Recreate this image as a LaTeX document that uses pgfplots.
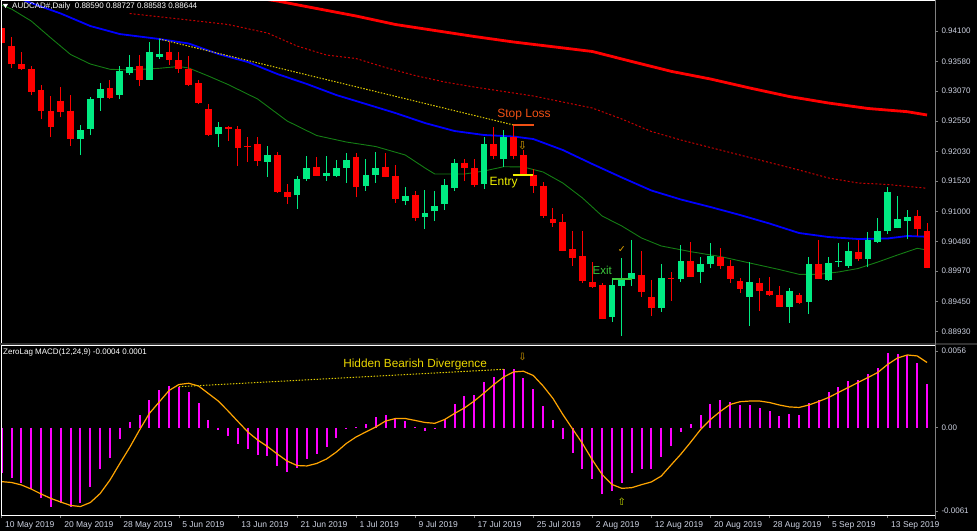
\documentclass[border=0pt]{standalone}
\usepackage{pgfplots}
\pgfplotsset{compat=1.18}
\usepackage{pgfplotstable}
\usepackage{fontspec}
\setmainfont{Liberation Sans}
\newfontfamily\symfont{DejaVu Sans}
\definecolor{bull}{RGB}{0,235,130}
\definecolor{bear}{RGB}{255,0,0}
\definecolor{lbl}{RGB}{205,210,225}
\definecolor{framec}{RGB}{128,128,128}
\definecolor{sepc}{RGB}{50,50,50}
\definecolor{ma20c}{RGB}{20,125,20}
\definecolor{ma100c}{RGB}{200,0,0}
\definecolor{trendc}{RGB}{225,205,0}
\definecolor{sigc}{RGB}{255,165,0}
\definecolor{histc}{RGB}{255,0,255}
\definecolor{slc}{RGB}{240,80,20}
\definecolor{entryc}{RGB}{240,240,0}
\definecolor{exitc}{RGB}{60,200,60}
\definecolor{divc}{RGB}{235,215,0}
\definecolor{upc}{RGB}{200,220,0}
\definecolor{dnc}{RGB}{220,160,0}

\pgfplotstableread{
i o h l c
8 0.92248 0.92484 0.91968 0.92398
9 0.92420 0.92970 0.92312 0.92931
10 0.92943 0.93201 0.92730 0.93103
12 0.93005 0.93498 0.92931 0.93418
13 0.93383 0.93687 0.93344 0.93486
15 0.93258 0.93916 0.93258 0.93744
16 0.93653 0.93957 0.93619 0.93710
22 0.92329 0.92541 0.92111 0.92455
27 0.91853 0.92123 0.91595 0.91963
30 0.91275 0.91607 0.91040 0.91556
31 0.91550 0.91956 0.91526 0.91739
33 0.91607 0.91956 0.91526 0.91664
34 0.91607 0.91882 0.91590 0.91739
35 0.91750 0.92008 0.91492 0.91882
37 0.91435 0.91894 0.91354 0.91624
38 0.91624 0.92025 0.91492 0.91739
41 0.91182 0.91413 0.91108 0.91263
43 0.90907 0.91366 0.90696 0.90976
44 0.91000 0.91354 0.90833 0.91091
45 0.91131 0.91550 0.91023 0.91452
46 0.91406 0.91894 0.91354 0.91825
49 0.91470 0.92272 0.91384 0.92157
51 0.91899 0.92398 0.91767 0.92272
62 0.89188 0.89831 0.89102 0.89733
63 0.89721 0.90202 0.88861 0.89836
64 0.89831 0.90507 0.89721 0.89934
67 0.89332 0.90089 0.89274 0.89848
69 0.89831 0.90421 0.89790 0.90146
71 0.89962 0.90220 0.89773 0.90089
72 0.90089 0.90460 0.90020 0.90232
76 0.89532 0.90123 0.89033 0.89779
80 0.89360 0.89687 0.89085 0.89630
82 0.89446 0.90220 0.89234 0.90089
84 0.89819 0.90220 0.89807 0.90106
85 0.90123 0.90450 0.90048 0.90151
86 0.90060 0.90477 0.90030 0.90318
88 0.90175 0.90649 0.90037 0.90507
89 0.90477 0.90890 0.90460 0.90667
90 0.90667 0.91423 0.90610 0.91337
91 0.90708 0.91263 0.90708 0.90863
92 0.90839 0.91023 0.90519 0.90897
}\bulltab

\pgfplotstableread{
i o h l c
0 0.94146 0.94318 0.93727 0.93889
1 0.93842 0.94002 0.93459 0.93533
2 0.93533 0.93744 0.93430 0.93442
3 0.93442 0.93503 0.92999 0.93056
4 0.93086 0.93172 0.92582 0.92725
5 0.92725 0.92983 0.92283 0.92455
6 0.92897 0.93132 0.92616 0.92707
7 0.92730 0.92999 0.92128 0.92238
11 0.93115 0.93258 0.92931 0.92943
14 0.93503 0.93687 0.93154 0.93258
17 0.93744 0.93916 0.93515 0.93601
18 0.93601 0.93744 0.93383 0.93447
19 0.93447 0.93670 0.93154 0.93166
20 0.93201 0.93258 0.92845 0.92857
21 0.92759 0.92845 0.92300 0.92312
23 0.92455 0.92467 0.92214 0.92410
24 0.92415 0.92467 0.91784 0.92094
25 0.92128 0.92283 0.91853 0.92101
26 0.92157 0.92283 0.91784 0.91865
28 0.91963 0.92020 0.91315 0.91327
29 0.91332 0.91470 0.91131 0.91246
32 0.91767 0.91939 0.91607 0.91612
36 0.91939 0.92008 0.91241 0.91413
39 0.91767 0.91997 0.91590 0.91595
40 0.91607 0.91796 0.91148 0.91212
42 0.91280 0.91354 0.90833 0.90890
47 0.91825 0.91894 0.91526 0.91739
48 0.91739 0.91894 0.91413 0.91452
50 0.92157 0.92444 0.91894 0.91956
52 0.92283 0.92484 0.91894 0.91956
53 0.91968 0.92054 0.91616 0.91624
54 0.91624 0.91722 0.91320 0.91440
55 0.91440 0.91509 0.90890 0.90925
56 0.90868 0.91052 0.90735 0.90804
57 0.90821 0.90949 0.90317 0.90323
58 0.90352 0.90667 0.90060 0.90202
59 0.90232 0.90667 0.89773 0.89802
60 0.89785 0.90123 0.89687 0.89699
61 0.89733 0.89762 0.89148 0.89148
65 0.89905 0.90323 0.89532 0.89618
66 0.89522 0.89819 0.89205 0.89332
68 0.89859 0.89962 0.89463 0.89831
70 0.90146 0.90477 0.89876 0.89876
73 0.90220 0.90374 0.90008 0.90065
74 0.90060 0.90163 0.89773 0.89836
75 0.89802 0.89848 0.89601 0.89664
77 0.89773 0.89848 0.89291 0.89630
78 0.89630 0.89865 0.89544 0.89561
79 0.89561 0.89716 0.89360 0.89360
81 0.89561 0.89601 0.89406 0.89429
83 0.90089 0.90507 0.89836 0.89836
87 0.90295 0.90507 0.90151 0.90180
93 0.90919 0.91023 0.90576 0.90691
94 0.90667 0.90794 0.90020 0.90020
}\beartab

\pgfplotstableread{
i p
26 0.94667
28 0.94616
32 0.94487
36 0.94358
40 0.94212
44 0.94109
48 0.94006
52 0.93911
56 0.93830
60 0.93748
64 0.93576
68 0.93407
72 0.93275
76 0.93120
80 0.92974
84 0.92862
88 0.92768
92 0.92713
94 0.92656
}\matwohundred

\pgfplotstableread{
i p
13 0.94401
19 0.94289
23 0.94212
27 0.94066
30 0.93842
33 0.93687
36 0.93627
39 0.93472
42 0.93335
45 0.93223
48 0.93137
51 0.93060
54 0.92983
57 0.92879
60 0.92776
63 0.92587
66 0.92372
69 0.92226
72 0.92097
75 0.91968
78 0.91839
81 0.91710
84 0.91573
87 0.91487
90 0.91461
94 0.91396
}\mahundred

\pgfplotstableread{
i p
0 0.94771
3 0.94581
6 0.94401
9 0.94186
12 0.94048
16 0.93963
19 0.93885
22 0.93705
25 0.93567
28 0.93361
31 0.93189
34 0.92999
37 0.92845
40 0.92690
43 0.92518
46 0.92381
49 0.92312
52 0.92286
54 0.92243
57 0.92054
60 0.91813
63 0.91581
66 0.91358
69 0.91203
72 0.91074
75 0.90937
78 0.90790
81 0.90627
84 0.90558
87 0.90524
90 0.90533
92 0.90576
94 0.90563
}\mafifty

\pgfplotstableread{
i p
0 0.94547
1 0.94478
3 0.94272
5 0.93980
7 0.93696
9 0.93533
11 0.93442
13 0.93430
16 0.93459
18 0.93490
19 0.93464
21 0.93326
23 0.93180
26 0.92931
29 0.92553
32 0.92303
35 0.92192
38 0.92114
41 0.91968
43 0.91745
44 0.91641
47 0.91641
49 0.91693
51 0.91767
53 0.91762
55 0.91676
57 0.91487
59 0.91229
61 0.90919
63 0.90747
65 0.90541
67 0.90404
70 0.90306
73 0.90223
76 0.90111
79 0.89999
81 0.89917
83 0.89917
85 0.89957
87 0.90017
89 0.90128
91 0.90249
93 0.90364
94 0.90335
}\matwenty

\pgfplotstableread{
i h s
0 -0.00334 -0.00395
1 -0.00371 -0.00401
2 -0.00402 -0.00419
3 -0.00451 -0.00449
4 -0.00517 -0.00485
5 -0.00578 -0.00518
6 -0.00553 -0.00544
7 -0.00578 -0.00569
8 -0.00553 -0.00577
9 -0.00432 -0.00548
10 -0.00305 -0.00482
11 -0.00220 -0.00383
12 -0.00083 -0.00262
13 0.00042 -0.00145
14 0.00093 -0.00017
15 0.00203 0.00104
16 0.00276 0.00188
17 0.00305 0.00272
18 0.00300 0.00316
19 0.00264 0.00325
20 0.00183 0.00305
21 0.00056 0.00250
22 -0.00017 0.00195
23 -0.00061 0.00122
24 -0.00122 0.00045
25 -0.00158 -0.00031
26 -0.00200 -0.00090
27 -0.00207 -0.00138
28 -0.00280 -0.00193
29 -0.00322 -0.00244
30 -0.00297 -0.00277
31 -0.00231 -0.00280
32 -0.00193 -0.00262
33 -0.00139 -0.00229
34 -0.00078 -0.00178
35 -0.00003 -0.00116
36 0.00003 -0.00068
37 0.00027 -0.00031
38 0.00076 0.00005
39 0.00093 0.00049
40 0.00061 0.00067
41 0.00051 0.00067
42 0.00002 0.00053
43 -0.00022 0.00038
44 -0.00002 0.00032
45 0.00064 0.00060
46 0.00171 0.00104
47 0.00232 0.00144
48 0.00239 0.00195
49 0.00337 0.00254
50 0.00369 0.00316
51 0.00427 0.00371
52 0.00427 0.00408
53 0.00366 0.00413
54 0.00283 0.00382
55 0.00159 0.00305
56 0.00056 0.00214
57 -0.00085 0.00097
58 -0.00188 -0.00010
59 -0.00302 -0.00116
60 -0.00378 -0.00236
61 -0.00485 -0.00343
62 -0.00461 -0.00416
63 -0.00402 -0.00444
64 -0.00329 -0.00439
65 -0.00300 -0.00417
66 -0.00300 -0.00397
67 -0.00212 -0.00354
68 -0.00134 -0.00273
69 -0.00029 -0.00193
70 0.00027 -0.00105
71 0.00093 -0.00013
72 0.00171 0.00060
73 0.00203 0.00119
74 0.00190 0.00170
75 0.00166 0.00190
76 0.00166 0.00195
77 0.00146 0.00195
78 0.00122 0.00184
79 0.00086 0.00166
80 0.00100 0.00152
81 0.00093 0.00148
82 0.00183 0.00166
83 0.00203 0.00192
84 0.00259 0.00221
85 0.00296 0.00258
86 0.00344 0.00294
87 0.00349 0.00331
88 0.00391 0.00367
89 0.00435 0.00404
90 0.00545 0.00463
91 0.00537 0.00510
92 0.00532 0.00532
93 0.00471 0.00525
94 0.00320 0.00477
}\macdtab

\pgfplotsset{
  mt/.style={
    scale only axis, width=934pt,
    xmin=-0.07, xmax=94.81,
    axis line style={draw=none},
    axis background/.style={fill=black},
    tick style={draw=framec, line width=0.6pt},
    tick align=outside, major tick length=3pt,
    tick label style={text=lbl},
    ytick pos=right, yticklabel pos=right,
    yticklabel style={anchor=west, font=\fontsize{8}{9.6}\selectfont},
    xticklabel style={anchor=north west, font=\fontsize{8.5}{10}\selectfont},
    scaled y ticks=false, scaled x ticks=false,
    clip=true,
  }
}

\begin{document}
\begin{tikzpicture}
\fill[black] (0pt,0pt) rectangle (977pt,531pt);

% ---------- main price panel ----------
\begin{axis}[mt, at={(1pt,188pt)}, anchor=south west, height=341pt,
  ymin=0.88736, ymax=0.94599,
  xtick=\empty,
  ytick={0.941,0.9358,0.9307,0.9255,0.9203,0.9152,0.91,0.9048,0.8997,0.8945,0.8893},
  yticklabels={0.94100,0.93580,0.93070,0.92550,0.92030,0.91520,0.91000,0.90480,0.89970,0.89450,0.88930}]
\addplot[red, line width=2.8pt] table[x=i,y=p] {\matwohundred};
\addplot[ma100c, line width=1pt, dash pattern=on 2pt off 2pt] table[x=i,y=p] {\mahundred};
\addplot[blue, line width=1.8pt] table[x=i,y=p] {\mafifty};
\addplot[ma20c, line width=0.9pt] table[x=i,y=p] {\matwenty};
\addplot[trendc, line width=1pt, dash pattern=on 1.5pt off 1.5pt] coordinates {(16,0.93963) (52,0.92484)};
% wicks
\addplot[bear, line width=1pt, -, quiver={u=0, v=\thisrow{h}-\thisrow{l}}] table[x=i,y=l] {\beartab};
\addplot[bull, line width=1pt, -, quiver={u=0, v=\thisrow{h}-\thisrow{l}}] table[x=i,y=l] {\bulltab};
% bodies
\addplot[bear, line width=6.8pt, -, quiver={u=0, v=\thisrow{c}-\thisrow{o}}] table[x=i,y=o] {\beartab};
\addplot[bull, line width=6.8pt, -, quiver={u=0, v=\thisrow{c}-\thisrow{o}}] table[x=i,y=o] {\bulltab};
% trade markers
\addplot[slc, line width=2pt] coordinates {(51.9,0.92484) (54.1,0.92484)};
\addplot[entryc, line width=2pt] coordinates {(51.9,0.91624) (53.95,0.91624)};
\addplot[exitc, line width=2pt] coordinates {(62.0,0.89836) (64.0,0.89836)};
\node[text=slc, font=\fontsize{12}{14}\selectfont] at (axis cs:53.06,0.92668) {Stop Loss};
\node[text=dnc, font=\symfont\fontsize{11}{12}\selectfont] at (axis cs:52.9,0.92123) {⇩};
\node[text=entryc, font=\fontsize{12}{14}\selectfont] at (axis cs:51.0,0.91487) {Entry};
\node[text=exitc, font=\fontsize{11.5}{13}\selectfont] at (axis cs:61.0,0.89991) {Exit};
\node[text=dnc, font=\symfont\fontsize{9.5}{11}\selectfont] at (axis cs:63.0,0.90352) {✓};
\end{axis}

% ---------- MACD panel ----------
\begin{axis}[mt, at={(1pt,16pt)}, anchor=south west, height=170pt,
  ymin=-0.00639, ymax=0.00605,
  xtick={0,6,...,90}, xtick pos=left,
  xticklabels={10 May 2019,20 May 2019,28 May 2019,5 Jun 2019,13 Jun 2019,21 Jun 2019,1 Jul 2019,9 Jul 2019,17 Jul 2019,25 Jul 2019,2 Aug 2019,12 Aug 2019,20 Aug 2019,28 Aug 2019,5 Sep 2019,13 Sep 2019},
  ytick={0.0056,0,-0.0061},
  yticklabels={0.0056,0.00,-0.0061}]
\addplot[histc, ycomb, line width=2pt] table[x=i,y=h] {\macdtab};
\addplot[sigc, line width=1.2pt] table[x=i,y=s] {\macdtab};
\addplot[trendc, line width=1pt, dash pattern=on 1.5pt off 1.5pt] coordinates {(18,0.00300) (51,0.00427)};
\node[text=divc, font=\fontsize{11.8}{13}\selectfont] at (axis cs:42.0,0.00466) {Hidden Bearish Divergence};
\node[text=dnc, font=\symfont\fontsize{10}{11}\selectfont] at (axis cs:52.9,0.00518) {⇩};
\node[text=upc, font=\symfont\fontsize{10}{11}\selectfont] at (axis cs:63.0,-0.00544) {⇧};
\end{axis}

% ---------- frames ----------
\fill[sepc] (0pt,186pt) rectangle (977pt,188.3pt);
\draw[white, line width=1pt] (1pt,188.3pt) -- (1pt,530.3pt) -- (935pt,530.3pt);
\draw[white, line width=1pt] (1pt,16pt) -- (1pt,185.7pt) -- (935pt,185.7pt);
\draw[white, line width=1pt] (1pt,16pt) -- (935pt,16pt);
\draw[framec, line width=1pt] (935.5pt,12pt) -- (935.5pt,531pt);
% titles
\fill[white] (3pt,527pt) -- (8pt,527pt) -- (5.5pt,523pt) -- cycle;
\node[anchor=west, text=white, inner sep=0pt, font=\fontsize{8}{9.6}\selectfont] at (12pt,524.5pt) {AUDCAD\#,Daily\ \ 0.88590 0.88727 0.88583 0.88644};
\node[anchor=west, text=white, inner sep=0pt, font=\fontsize{8}{9.6}\selectfont] at (3pt,179pt) {ZeroLag MACD(12,24,9) -0.0004 0.0001};
\pgfresetboundingbox
\useasboundingbox (0pt,0pt) rectangle (977pt,531pt);
\end{tikzpicture}
\end{document}
